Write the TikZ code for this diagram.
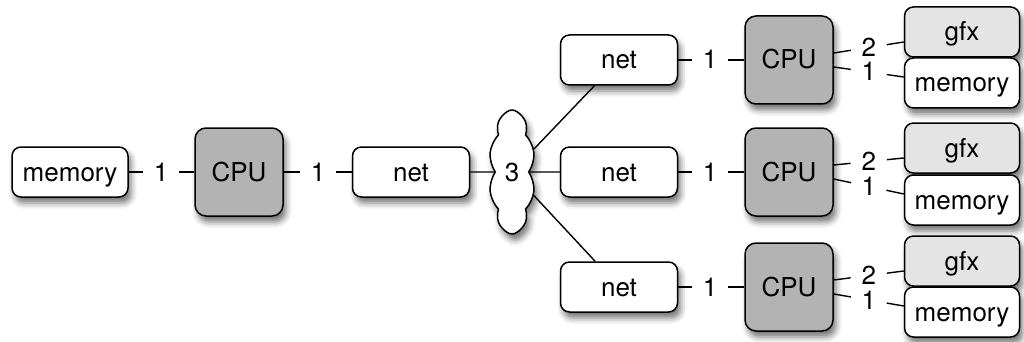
\documentclass[tikz,border=0pt]{standalone}
\usepackage{fontspec}
\setmainfont{TeX Gyre Heros}
\usetikzlibrary{shapes.symbols,shadows.blur,calc}
\definecolor{cpugray}{HTML}{B3B3B3}
\definecolor{gfxgray}{HTML}{E4E4E4}
\tikzset{
  every node/.style={font=\fontsize{26}{30}\selectfont},
  sh/.style={blur shadow={shadow xshift=3pt,shadow yshift=-6pt,shadow blur radius=6pt,shadow opacity=55}},
  box/.style={draw=black,line width=1.5pt,rounded corners=9pt,fill=white,sh,minimum width=#1,minimum height=50pt,inner sep=0pt,text height=18pt,text depth=0pt},
  cpubox/.style={draw=black,line width=1.5pt,rounded corners=11pt,fill=cpugray,sh,minimum width=88pt,minimum height=88pt,inner sep=0pt,text height=18pt,text depth=0pt},
  gfxbox/.style={box=115pt,fill=gfxgray},
  lbl/.style={inner xsep=11pt,inner ysep=0pt,text height=18pt,text depth=0pt},
  wire/.style={line width=1.4pt,black},
}
\begin{document}
\begin{tikzpicture}[x=1pt,y=-1pt]
\useasboundingbox (0,0) rectangle (1024,342);
% left chain
\node[box=116pt] (mem0) at (70,172) {memory};
\node[cpubox] (cpu0) at (239,172) {CPU};
\node[box=117pt] (net0) at (411,172) {net};
\node[cloud,cloud puffs=10,cloud puff arc=80,cloud ignores aspect,minimum width=46pt,minimum height=124pt,inner sep=0pt,draw=black,line width=1.5pt,fill=white,sh,text height=18pt,text depth=0pt] (cloud) at (512,172) {3};
\node[lbl] (l0) at (161,172) {1};
\node[lbl] (l1) at (318,172) {1};
\draw[wire] (mem0) -- (l0) -- (cpu0);
\draw[wire] (cpu0) -- (l1) -- (net0);
\draw[wire] (net0) -- (cloud);
% three branches
\foreach \n/\y/\gy/\my in {A/60/32/83, B/172/148/200, C/287/261/312}{
  \node[box=117pt] (net\n) at (619,\y) {net};
  \node[cpubox] (cpu\n) at (789,\y) {CPU};
  \node[gfxbox] (gfx\n) at (962,\gy) {gfx};
  \node[box=115pt] (mem\n) at (962,\my) {memory};
  \node[lbl] (ln\n) at (710,\y) {1};
  \draw[wire] (cloud) -- (net\n);
  \draw[wire] (net\n) -- (ln\n) -- (cpu\n);
  \coordinate (cg\n) at ($(cpu\n.east)+(0,-7)$);
  \coordinate (gg\n) at ($(gfx\n.west)+(0,10)$);
  \coordinate (cm\n) at ($(cpu\n.east)+(0,7)$);
  \coordinate (mm\n) at ($(mem\n.west)+(0,-6)$);
  \node[lbl] (lg\n) at ($(cg\n)!0.5!(gg\n)$) {2};
  \node[lbl] (lm\n) at ($(cm\n)!0.5!(mm\n)$) {1};
  \draw[wire] (cg\n) -- ($(cg\n)!(lg\n.west)!(gg\n)$);
  \draw[wire] ($(cg\n)!(lg\n.east)!(gg\n)$) -- (gg\n);
  \draw[wire] (cm\n) -- ($(cm\n)!(lm\n.west)!(mm\n)$);
  \draw[wire] ($(cm\n)!(lm\n.east)!(mm\n)$) -- (mm\n);
}
\end{tikzpicture}
\end{document}
